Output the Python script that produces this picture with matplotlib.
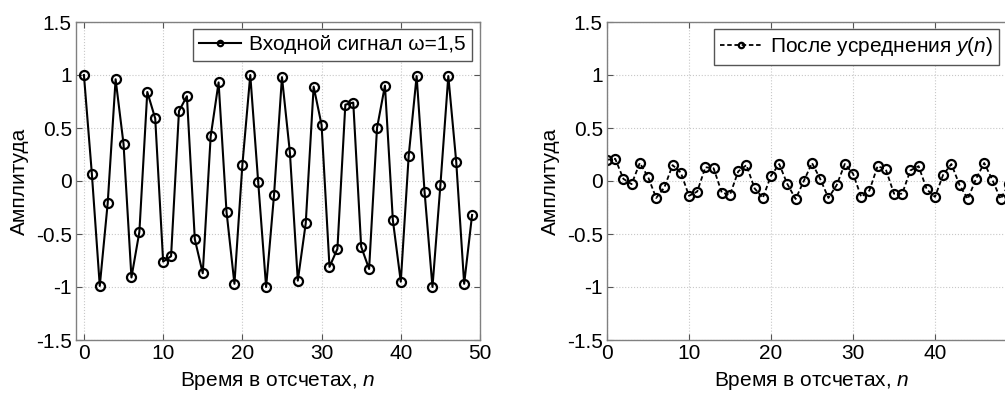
import numpy as np
import matplotlib.pyplot as plt

# samples
n = list(range(50))
x_in = [1.00, 0.07, -0.99, -0.21, 0.96, 0.35, -0.91, -0.48, 0.84, 0.59,
        -0.76, -0.71, 0.66, 0.80, -0.55, -0.87, 0.42, 0.93, -0.29, -0.97,
        0.15, 1.00, -0.01, -1.00, -0.13, 0.98, 0.27, -0.94, -0.40, 0.89,
        0.53, -0.81, -0.64, 0.72, 0.74, -0.62, -0.83, 0.50, 0.90, -0.37,
        -0.95, 0.24, 0.99, -0.10, -1.00, -0.04, 0.99, 0.18, -0.97, -0.32]
y_avg = [0.20, 0.21, 0.02, -0.03, 0.17, 0.04, -0.16, -0.06, 0.15, 0.08,
         -0.14, -0.10, 0.13, 0.12, -0.11, -0.13, 0.09, 0.15, -0.07, -0.16,
         0.05, 0.16, -0.03, -0.17, 0.00, 0.17, 0.02, -0.16, -0.04, 0.16,
         0.07, -0.15, -0.09, 0.14, 0.11, -0.12, -0.12, 0.10, 0.14, -0.08,
         -0.15, 0.06, 0.16, -0.04, -0.17, 0.02, 0.17, 0.01, -0.17, -0.03]
yticks = [-1.5, -1, -0.5, 0, 0.5, 1, 1.5]
ytick_labels = ["-1.5", "-1", "-0.5", "0", "0.5", "1", "1.5"]
xticks_left = [0, 10, 20, 30, 40, 50]
xticks_right = [0, 10, 20, 30, 40]

FS = 15
plt.rcParams['font.family'] = ['Liberation Sans', 'DejaVu Sans']
plt.rcParams['font.size'] = FS
plt.rcParams['mathtext.fontset'] = 'custom'
plt.rcParams['mathtext.it'] = 'Liberation Sans:italic'
plt.rcParams['mathtext.rm'] = 'Liberation Sans'
plt.rcParams['axes.unicode_minus'] = False

fig = plt.figure(figsize=(10.05, 3.93), dpi=100)
ax1 = fig.add_axes([76/1005, 53/393, 404/1005, 318/393])
# right panel runs past the figure edge, as in the original
ax2 = fig.add_axes([607/1005, 53/393, 410/1005, 318/393])


def style(ax, xlim, xticks):
    ax.set_xlim(*xlim)
    ax.set_ylim(-1.5, 1.5)
    ax.set_xticks(xticks)
    ax.set_yticks(yticks)
    ax.set_yticklabels(ytick_labels)
    ax.grid(True, linestyle=':', color='#c8c8c8', linewidth=0.8)
    ax.tick_params(direction='in', top=True, right=True, length=4,
                   color='#555555', labelsize=FS, pad=3)
    for s in ax.spines.values():
        s.set_color('#808080')
        s.set_linewidth(1.0)
    ax.set_xlabel('Время в отсчетах, $\\it{n}$', fontsize=FS, labelpad=5)
    ax.set_ylabel('Амплитуда', fontsize=FS, labelpad=5)


ax1.plot(n, x_in, '-o', color='black', linewidth=1.5, markersize=6.5,
         markerfacecolor='none', markeredgewidth=1.6,
         label='Входной сигнал ω=1,5')
style(ax1, (-1, 50), xticks_left)

ax2.plot(n, y_avg, '--o', color='black', linewidth=1.3, markersize=6.5,
         markerfacecolor='none', markeredgewidth=1.6, dashes=(2.5, 1.5),
         label='После усреднения $\\it{y(n)}$')
style(ax2, (0, 50), xticks_right)

# legend boxes placed at their spots in the figure
for ax, right_px in ((ax1, 472), (ax2, 999)):
    lg = ax.legend(loc='upper right',
                   bbox_to_anchor=(right_px / 1005, 364 / 393),
                   bbox_transform=fig.transFigure,
                   fancybox=False, framealpha=1, edgecolor='#555555',
                   fontsize=FS, borderpad=0.3, handlelength=2.0,
                   handletextpad=0.4, markerscale=0.6, borderaxespad=0)
    lg.get_frame().set_linewidth(1.0)

fig.savefig('out.png', dpi=100)
